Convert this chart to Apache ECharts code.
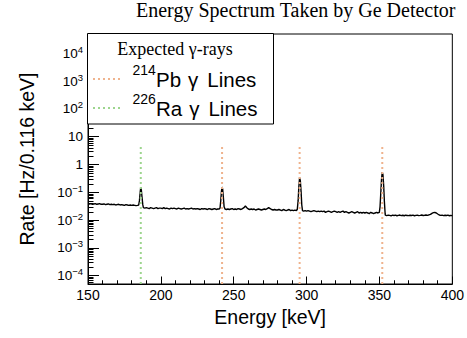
<!DOCTYPE html>
<html><head><meta charset="utf-8">
<script src="https://cdn.jsdelivr.net/npm/echarts@6/dist/echarts.min.js"></script>
<style>html,body{margin:0;padding:0;background:#fff}#c{width:467px;height:338px}</style>
</head><body><div id="c"></div>
<script>
// ---- data ----
const titleText = 'Energy Spectrum Taken by Ge Detector';
const xName = 'Energy [keV]';
const yName = 'Rate [Hz/0.116 keV]';
const xMin = 150, xMax = 400, xStep = 50;
const yMin = 5e-5, yMax = 5e4;
const lineTopRate = 5;           // top end of the dotted gamma-line markers
const baseStartKeV = 150;        // baseRate[i] is the rate at 150 + i keV
const baseRate = [
  .039, .038, .039, .037, .038, .039, .037, .038, .039, .037,
  .037, .038, .036, .037, .038, .036, .037, .036, .037, .035,
  .036, .037, .035, .036, .035, .034, .036, .035, .034, .035,
  .034, .035, .034, .033, .034, null, null, null, .028, .027,
  .028, .027, .026, .028, .027, .026, .027, .028, .026, .027,
  .027, .026, .028, .026, .027, .026, .025, .027, .026, .027,
  .026, .025, .027, .026, .025, .026, .027, .025, .026, .025,
  .026, .027, .025, .026, .025, .026, .025, .024, .026, .025,
  .026, .025, .024, .026, .025, .024, .025, .026, .024, .025,
  .025, null, null, null, .025, .024, .025, .024, .025, .026,
  .024, .025, .024, .026, .025, .024, .026, .028, .032, .028,
  .025, .024, .025, .024, .025, .023, .024, .025, .024, .023,
  .024, .025, .024, .026, .028, .026, .024, .023, .024, .023,
  .023, .024, .023, .022, .024, .023, .022, .023, .024, .022,
  .023, .022, .023, .022, null, null, null, null, .021, .022,
  .021, .022, .021, .020, .021, .022, .021, .020, .021, .020,
  .021, .020, .021, .019, .020, .021, .020, .019, .020, .021,
  .020, .019, .020, .019, .020, .021, .019, .020, .019, .018,
  .019, .020, .019, .018, .019, .020, .018, .019, .018, .019,
  .018, .019, .018, .017, .019, .018, .017, .018, .019, .018,
  null, null, null, null, .015, .0145, .015, .0148, .0142, .015,
  .0146, .015, .0143, .0148, .0152, .0145, .0149, .0143, .015, .0147,
  .0144, .0149, .0146, .015, .0143, .0148, .0151, .0145, .0148, .0152,
  .0146, .0149, .0153, .0148, .0155, .016, .0175, .0185, .019, .018,
  .0165, .0152, .0148, .015, .0145, .0149, .0146, .015, .0143, .0147,
  .0145
];
const peakEnergy = [
  184.8, 185.3, 185.8, 186.2, 186.6, 187.1, 187.6,
  240.6, 241.1, 241.6, 242.0, 242.4, 242.9, 243.4,
  293.6, 294.2, 294.7, 295.2, 295.7, 296.2, 296.7, 297.2,
  349.9, 350.4, 350.9, 351.4, 351.9, 352.4, 352.9, 353.4, 353.9
];
const peakRate = [
  0.035, 0.05, 0.1, 0.15, 0.12, 0.065, 0.036,
  0.027, 0.05, 0.11, 0.155, 0.13, 0.065, 0.03,
  0.024, 0.05, 0.16, 0.34, 0.26, 0.11, 0.035, 0.022,
  0.019, 0.03, 0.09, 0.28, 0.53, 0.43, 0.17, 0.045, 0.017
];
const pbLineEnergies = [241.997, 295.224, 351.932];
const raLineEnergies = [186.211];
const yMinorTicks = [
  6e-5, 7e-5, 8e-5, 9e-5,
  2e-4, 3e-4, 4e-4, 5e-4, 6e-4, 7e-4, 8e-4, 9e-4,
  2e-3, 3e-3, 4e-3, 5e-3, 6e-3, 7e-3, 8e-3, 9e-3,
  0.02, 0.03, 0.04, 0.05, 0.06, 0.07, 0.08, 0.09,
  0.2, 0.3, 0.4, 0.5, 0.6, 0.7, 0.8, 0.9,
  2, 3, 4, 5, 6, 7, 8, 9,
  20, 30, 40, 50, 60, 70, 80, 90,
  200, 300, 400, 500, 600, 700, 800, 900,
  2000, 3000, 4000, 5000, 6000, 7000, 8000, 9000,
  20000, 30000, 40000
];
const legendHeader = 'Expected γ-rays';
const legendItems = [
  {mass: '214', name: 'Pb', color: '#efb38d'},
  {mass: '226', name: 'Ra', color: '#9dd58e'}
];

// ---- build ----
const SANS = "'Liberation Sans', Arial, sans-serif";
const SERIF = "'Liberation Serif', 'Times New Roman', serif";
const points = [];
baseRate.forEach((r, i) => { if (r !== null) points.push([baseStartKeV + i, r]); });
peakEnergy.forEach((e, i) => points.push([e, peakRate[i]]));
points.sort((a, b) => a[0] - b[0]);

const vLine = (e, color) => ({
  type: 'line', data: [[e, yMin], [e, lineTopRate]], showSymbol: false, silent: true, z: 3,
  lineStyle: {color: color, width: 2, type: [2, 3]}
});

const series = [
  {type: 'line', data: points, showSymbol: false, silent: true, z: 2,
   lineStyle: {color: '#000', width: 1.4}},
  ...raLineEnergies.map(e => vLine(e, legendItems[1].color)),
  ...pbLineEnergies.map(e => vLine(e, legendItems[0].color)),
  {type: 'custom', silent: true, z: 4, clip: false,
   data: yMinorTicks.map(v => [xMin, v]),
   renderItem: (p, api) => {
     const pt = api.coord([api.value(0), api.value(1)]);
     const y = Math.round(pt[1]) + 0.5;
     return {type: 'line', shape: {x1: pt[0], y1: y, x2: pt[0] + 5.5, y2: y},
             style: {stroke: '#000', lineWidth: 1}};
   }}
];

const legendGraphics = [
  {type: 'rect', shape: {x: 87.5, y: 33.5, width: 186, height: 90.5},
   style: {fill: '#fff', stroke: '#000', lineWidth: 1}, z: 100},
  {type: 'text', x: 175, y: 49, z: 101,
   style: {text: legendHeader, fontFamily: SERIF, fontSize: 18, fill: '#000',
           textAlign: 'center', textVerticalAlign: 'middle'}}
];
legendItems.forEach((it, k) => {
  const yc = 79 + 29 * k;
  legendGraphics.push(
    {type: 'line', z: 101, shape: {x1: 93, y1: yc, x2: 123, y2: yc},
     style: {stroke: it.color, lineWidth: 2, lineDash: [2, 3]}},
    {type: 'text', x: 132.5, y: yc - 9.5, z: 101,
     style: {text: it.mass, fontFamily: SANS, fontSize: 14, fill: '#000',
             textAlign: 'left', textVerticalAlign: 'middle'}},
    {type: 'text', x: 156, y: yc + 0.4, z: 101,
     style: {text: '{t|' + it.name + '}{g|γ}{t|Lines}', fill: '#000',
             textAlign: 'left', textVerticalAlign: 'middle',
             rich: {t: {fontFamily: SANS, fontSize: 20.5, fill: '#000'},
                    g: {fontFamily: SANS, fontSize: 20.5, fill: '#000', padding: [0, 9, 0, 7]}}}}
  );
});

const option = {
  animation: false,
  backgroundColor: '#fff',
  title: {text: titleText, left: 136, top: 0, padding: 0,
          textStyle: {fontFamily: SERIF, fontSize: 20, fontWeight: 'normal', color: '#000'}},
  grid: {left: 88, right: 11, top: 34, bottom: 54, show: true, borderColor: '#000', borderWidth: 1},
  xAxis: {
    type: 'value', min: xMin, max: xMax, interval: xStep,
    name: xName, nameLocation: 'middle', nameGap: 22,
    nameTextStyle: {fontFamily: SANS, fontSize: 19.5, color: '#000'},
    axisLine: {show: true, onZero: false, lineStyle: {color: '#000', width: 1}},
    axisTick: {show: true, inside: true, length: 7.5, lineStyle: {color: '#000'}},
    minorTick: {show: true, splitNumber: 5, length: 3.75, lineStyle: {color: '#000'}},
    splitLine: {show: false},
    axisLabel: {fontFamily: SANS, fontSize: 14, color: '#000', margin: 4}
  },
  yAxis: {
    type: 'log', logBase: 10, min: yMin, max: yMax,
    name: yName, nameLocation: 'middle', nameGap: 51, nameRotate: 90,
    nameTextStyle: {fontFamily: SANS, fontSize: 19.5, color: '#000'},
    axisLine: {show: true, lineStyle: {color: '#000', width: 1}},
    axisTick: {show: true, inside: true, length: 11, lineStyle: {color: '#000'}},
    splitLine: {show: false},
    axisLabel: {
      margin: 5, color: '#000',
      formatter: v => {
        const n = Math.log10(v), r = Math.round(n);
        if (Math.abs(n - r) > 0.01) return '';
        if (r === 0) return '{b|1}';
        if (r === 1) return '{b|10}';
        return '{b|10}{s|' + (r < 0 ? '−' : '') + Math.abs(r) + '}';
      },
      rich: {
        b: {fontFamily: SANS, fontSize: 13.5, color: '#000'},
        s: {fontFamily: SANS, fontSize: 9.5, color: '#000', padding: [0, 0, 8, 0]}
      }
    }
  },
  series: series,
  graphic: legendGraphics
};
const chart = echarts.init(document.getElementById('c'), null, {renderer: 'svg'});
chart.setOption(option);
</script></body></html>
